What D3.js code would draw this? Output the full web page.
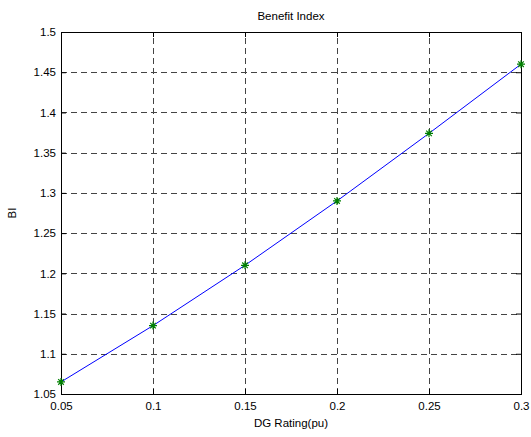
<!DOCTYPE html>
<html><head><meta charset="utf-8">
<script src="https://cdn.jsdelivr.net/npm/d3@7"></script>
<style>body{margin:0;background:#fff}svg{display:block;font-family:"Liberation Sans",Arial,sans-serif}</style>
</head><body>
<svg id="c" width="531" height="437"></svg>
<script>
const ratings = [0.05, 0.1, 0.15, 0.2, 0.25, 0.3];
const biValues = [1.065, 1.135, 1.21, 1.29, 1.374, 1.46];
const xTicks = [0.05, 0.1, 0.15, 0.2, 0.25, 0.3];
const yTicks = [1.05, 1.1, 1.15, 1.2, 1.25, 1.3, 1.35, 1.4, 1.45, 1.5];

const svg = d3.select("#c");
const L = 61, R = 521, T = 32, B = 394;
const x = d3.scaleLinear().domain([0.05, 0.3]).range([L, R]);
const y = d3.scaleLinear().domain([1.05, 1.5]).range([B, T]);

svg.append("rect").attr("width",531).attr("height",437).attr("fill","#fff");

// grid
const g = svg.append("g");
g.selectAll(".gx").data(xTicks.slice(1,-1)).join("line")
  .attr("x1",d=>Math.round(x(d))+0.5).attr("x2",d=>Math.round(x(d))+0.5)
  .attr("y1",B).attr("y2",T)
  .attr("stroke","#444").attr("stroke-dasharray","6,4");
g.selectAll(".gy").data(yTicks.slice(1,-1)).join("line")
  .attr("y1",d=>Math.round(y(d))+0.5).attr("y2",d=>Math.round(y(d))+0.5)
  .attr("x1",L).attr("x2",R)
  .attr("stroke","#444").attr("stroke-dasharray","6,4");

// axes
const fmt = d => String(+d.toFixed(2));
const ax = svg.append("g").attr("transform",`translate(0,${B})`)
  .call(d3.axisBottom(x).tickValues(xTicks).tickFormat(fmt).tickSizeInner(-5).tickSizeOuter(0).tickPadding(8));
const ay = svg.append("g").attr("transform",`translate(${L},0)`)
  .call(d3.axisLeft(y).tickValues(yTicks).tickFormat(fmt).tickSizeInner(-5).tickSizeOuter(0).tickPadding(5));
const axTop = svg.append("g").attr("transform",`translate(0,${T})`)
  .call(d3.axisTop(x).tickValues(xTicks).tickFormat("").tickSizeInner(-5).tickSizeOuter(0));
const ayR = svg.append("g").attr("transform",`translate(${R},0)`)
  .call(d3.axisRight(y).tickValues(yTicks).tickFormat("").tickSizeInner(-5).tickSizeOuter(0));
[ax,ay,axTop,ayR].forEach(a=>{
  a.select(".domain").remove();
  a.selectAll("line").attr("stroke","#000");
  a.selectAll("text").attr("font-size","11.5px").attr("fill","#000").attr("font-family",'"Liberation Sans",Arial,sans-serif');
});
svg.append("rect").attr("x",L+0.5).attr("y",T+0.5).attr("width",R-L).attr("height",B-T)
  .attr("fill","none").attr("stroke","#000").attr("stroke-width",1);

// line
const line = d3.line().x((d,i)=>x(ratings[i])).y(d=>y(d));
svg.append("path").datum(biValues).attr("d",line).attr("fill","none").attr("stroke","#0000ff").attr("stroke-width",1);

// markers '*'
const s = 4;
const mk = svg.append("g").attr("stroke","#008000").attr("stroke-width",1.2);
biValues.forEach((v,i)=>{
  const cx = x(ratings[i]), cy = y(v);
  mk.append("path").attr("d",
    `M${cx-s},${cy}L${cx+s},${cy}M${cx},${cy-s}L${cx},${cy+s}`+
    `M${cx-s*0.7},${cy-s*0.7}L${cx+s*0.7},${cy+s*0.7}M${cx-s*0.7},${cy+s*0.7}L${cx+s*0.7},${cy-s*0.7}`);
});

// labels
svg.append("text").attr("x",(L+R)/2).attr("y",20).attr("text-anchor","middle").attr("font-size","11.5px").text("Benefit Index");
svg.append("text").attr("x",(L+R)/2).attr("y",427).attr("text-anchor","middle").attr("font-size","11.5px").text("DG Rating(pu)");
svg.append("text").attr("transform",`translate(16,${(T+B)/2}) rotate(-90)`).attr("text-anchor","middle").attr("font-size","11.5px").text("BI");
</script>
</body></html>
